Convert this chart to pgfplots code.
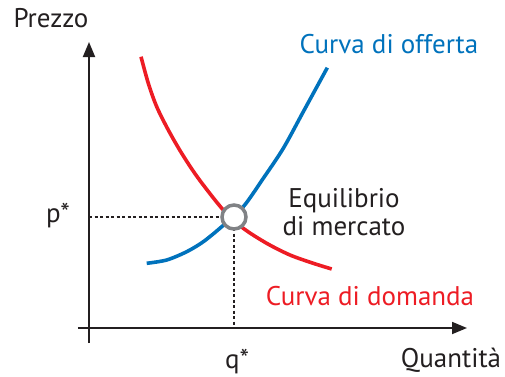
\documentclass[border=0pt]{standalone}
\usepackage{fontspec}
\setmainfont{PT Sans}
\usepackage{pgfplots}
\pgfplotsset{compat=1.18}
\usetikzlibrary{arrows.meta}
\definecolor{supply}{HTML}{0072BC}
\definecolor{demand}{HTML}{ED1C24}
\definecolor{ink}{HTML}{231F20}
\definecolor{ring}{HTML}{808285}

\begin{document}
\begin{tikzpicture}[lbl/.style={font=\fontsize{27}{28}\selectfont}]
\begin{axis}[
    x=1pt, y=1pt,
    xmin=-11, xmax=378, ymin=-15, ymax=286,
    axis lines=center,
    axis line style={ink, line width=1.8pt, -{Triangle[length=15pt,width=12pt]}},
    xtick=\empty, ytick=\empty,
    clip=false,
]
% demand curve
\addplot[demand, line width=3.6pt, smooth] coordinates {
    (52,271.3) (59.3,244.7) (67.7,221.3) (79.3,198) (92.7,174.7) (109.3,149.7)
    (134.3,118) (154.3,99.7) (177.7,84.7) (201,73) (224.3,64.7) (242.7,59)
};
% supply curve
\addplot[supply, line width=3.6pt, smooth] coordinates {
    (57.7,64.7) (77.7,68) (97.7,76.3) (114.3,86.3) (132.7,101.3)
    (154.3,121.3) (174.3,149.7) (194.3,179.7) (214.3,216.3) (238.3,260.3)
};
% guide lines to the equilibrium
\addplot[ink, line width=1.3pt, dash pattern=on 3pt off 2.5pt] coordinates {(0,111) (145,111)};
\addplot[ink, line width=1.3pt, dash pattern=on 3pt off 2.5pt] coordinates {(145,111) (145,0)};
% equilibrium point
\addplot[only marks, mark=*, mark size=12pt, mark options={fill=white, draw=ring, line width=3.5pt}]
    coordinates {(145,111)};

\node[lbl, ink] at (axis cs:-38,310) {Prezzo};
\node[lbl, ink] at (axis cs:362,-32) {Quantità};
\node[lbl, ink] at (axis cs:-31,112) {p*};
\node[lbl, ink] at (axis cs:148,-34) {q*};
\node[lbl, supply] at (axis cs:300,284) {Curva di offerta};
\node[lbl, demand] at (axis cs:281,32) {Curva di domanda};
\node[lbl, ink, align=center] at (axis cs:255,116) {Equilibrio\\di mercato};

\coordinate (bl) at (axis cs:-89,-48);
\coordinate (tr) at (axis cs:416,328);
\end{axis}
\pgfresetboundingbox
\useasboundingbox (bl) rectangle (tr);
\end{tikzpicture}
\end{document}
